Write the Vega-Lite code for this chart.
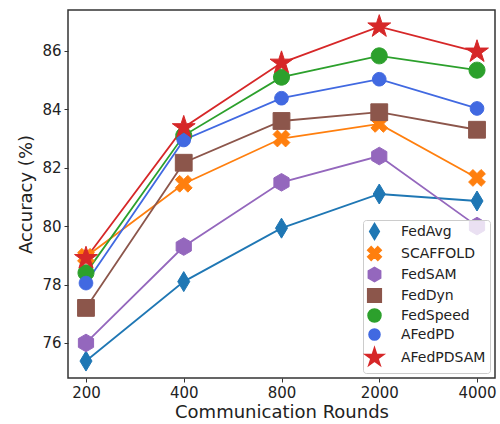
{
  "$schema": "https://vega.github.io/schema/vega-lite/v6.json",
  "width": 427,
  "height": 368,
  "autosize": {"type": "none"},
  "padding": {"left": 68, "top": 10, "right": 5, "bottom": 46},
  "background": "white",
  "config": {
    "font": "DejaVu Sans",
    "view": {"stroke": "#333", "strokeWidth": 1.5},
    "axis": {"grid": false, "domain": false, "tickColor": "#333", "tickSize": 4, "tickWidth": 1, "labelColor": "#222", "titleColor": "#222", "labelFontSize": 15, "titleFontSize": 18, "titleFontWeight": "normal", "labelFont": "DejaVu Sans", "titleFont": "DejaVu Sans"}
  },
  "resolve": {"legend": {"color": "independent", "shape": "independent", "stroke": "independent"}},
  "data": {"values": [
    {"method": "FedAvg", "marker": "FedAvg", "rounds": "200", "acc": 75.38},
    {"method": "FedAvg", "marker": "FedAvg", "rounds": "400", "acc": 78.1},
    {"method": "FedAvg", "marker": "FedAvg", "rounds": "800", "acc": 79.93},
    {"method": "FedAvg", "marker": "FedAvg", "rounds": "2000", "acc": 81.1},
    {"method": "FedAvg", "marker": "FedAvg", "rounds": "4000", "acc": 80.86},
    {"method": "SCAFFOLD", "marker": "SCAFFOLD", "rounds": "200", "acc": 78.95},
    {"method": "SCAFFOLD", "marker": "SCAFFOLD", "rounds": "400", "acc": 81.45},
    {"method": "SCAFFOLD", "marker": "SCAFFOLD", "rounds": "800", "acc": 83.0},
    {"method": "SCAFFOLD", "marker": "SCAFFOLD", "rounds": "2000", "acc": 83.5},
    {"method": "SCAFFOLD", "marker": "SCAFFOLD", "rounds": "4000", "acc": 81.65},
    {"method": "FedSAM", "marker": "FedSAM", "rounds": "200", "acc": 76.0},
    {"method": "FedSAM", "marker": "FedSAM", "rounds": "400", "acc": 79.3},
    {"method": "FedSAM", "marker": "FedSAM", "rounds": "800", "acc": 81.5},
    {"method": "FedSAM", "marker": "FedSAM", "rounds": "2000", "acc": 82.4},
    {"method": "FedSAM", "marker": "FedSAM", "rounds": "4000", "acc": 80.0},
    {"method": "FedDyn", "marker": "FedDyn", "rounds": "200", "acc": 77.2},
    {"method": "FedDyn", "marker": "FedDyn", "rounds": "400", "acc": 82.17},
    {"method": "FedDyn", "marker": "FedDyn", "rounds": "800", "acc": 83.6},
    {"method": "FedDyn", "marker": "FedDyn", "rounds": "2000", "acc": 83.9},
    {"method": "FedDyn", "marker": "FedDyn", "rounds": "4000", "acc": 83.3},
    {"method": "FedSpeed", "marker": "FedSpeed", "rounds": "200", "acc": 78.4},
    {"method": "FedSpeed", "marker": "FedSpeed", "rounds": "400", "acc": 83.1},
    {"method": "FedSpeed", "marker": "FedSpeed", "rounds": "800", "acc": 85.1},
    {"method": "FedSpeed", "marker": "FedSpeed", "rounds": "2000", "acc": 85.83},
    {"method": "FedSpeed", "marker": "FedSpeed", "rounds": "4000", "acc": 85.34},
    {"method": "AFedPD", "marker": "AFedPD", "rounds": "200", "acc": 78.05},
    {"method": "AFedPD", "marker": "AFedPD", "rounds": "400", "acc": 82.95},
    {"method": "AFedPD", "marker": "AFedPD", "rounds": "800", "acc": 84.38},
    {"method": "AFedPD", "marker": "AFedPD", "rounds": "2000", "acc": 85.03},
    {"method": "AFedPD", "marker": "AFedPD", "rounds": "4000", "acc": 84.03},
    {"method": "AFedPDSAM", "marker": "AFedPDSAM", "rounds": "200", "acc": 78.9},
    {"method": "AFedPDSAM", "marker": "AFedPDSAM", "rounds": "400", "acc": 83.38},
    {"method": "AFedPDSAM", "marker": "AFedPDSAM", "rounds": "800", "acc": 85.59},
    {"method": "AFedPDSAM", "marker": "AFedPDSAM", "rounds": "2000", "acc": 86.83},
    {"method": "AFedPDSAM", "marker": "AFedPDSAM", "rounds": "4000", "acc": 85.97}
  ]},
  "encoding": {
    "x": {"field": "rounds", "type": "ordinal", "sort": ["200", "400", "800", "2000", "4000"],
      "scale": {"type": "point", "padding": 0.184},
      "axis": {"title": "Communication Rounds", "labelAngle": 0, "labelPadding": 3, "titlePadding": 3}},
    "y": {"field": "acc", "type": "quantitative",
      "scale": {"domain": [74.8, 87.4], "nice": false, "zero": false},
      "axis": {"title": "Accuracy (%)", "values": [76, 78, 80, 82, 84, 86], "labelPadding": 3, "titlePadding": 6}}
  },
  "layer": [
    {"mark": {"type": "line", "strokeWidth": 1.8},
      "encoding": {
        "color": {"field": "method", "type": "nominal", "legend": null,
          "scale": {"domain": ["FedAvg", "SCAFFOLD", "FedSAM", "FedDyn", "FedSpeed", "AFedPD", "AFedPDSAM"],
            "range": ["#1f77b4", "#ff7f0e", "#9467bd", "#8c564b", "#2ca02c", "#4169e1", "#d62728"]}}
      }},
    {"mark": {"type": "point", "filled": true, "opacity": 1, "size": 256, "strokeWidth": 1},
      "encoding": {
        "color": {"field": "method", "type": "nominal",
          "scale": {"domain": ["FedAvg", "SCAFFOLD", "FedSAM", "FedDyn", "FedSpeed", "AFedPD", "AFedPDSAM"],
            "range": ["#1f77b4", "#ff7f0e", "#9467bd", "#8c564b", "#2ca02c", "#4169e1", "#d62728"]},
          "legend": {
            "title": null, "orient": "bottom-right", "offset": 5,
            "fillColor": "rgba(255,255,255,0.8)", "strokeColor": "#ccc", "cornerRadius": 3, "padding": 4,
            "symbolSize": 169, "symbolStrokeWidth": 1.5, "symbolOffset": 0, "labelOffset": 19,
            "labelFontSize": 14, "labelColor": "#222", "rowPadding": 0,
            "encode": {"symbols": {
              "shape": {"value": {"expr": "scale('shape', datum.value) + ' M0,-1.45 M0,1.45 M-2.54,-0.05 L2.54,-0.05 L2.54,0.05 L-2.54,0.05 Z'"}},
              "stroke": {"value": {"expr": "scale('color', datum.value)"}},
              "strokeWidth": {"value": 1.5}
            }}
          }},
        "stroke": {"field": "method", "type": "nominal", "legend": null,
          "scale": {"domain": ["FedAvg", "SCAFFOLD", "FedSAM", "FedDyn", "FedSpeed", "AFedPD", "AFedPDSAM"],
            "range": ["#1f77b4", "#ff7f0e", "#9467bd", "#8c564b", "#2ca02c", "#4169e1", "#d62728"]}},
        "shape": {"field": "marker", "type": "nominal", "legend": null,
          "scale": {"domain": ["FedAvg", "SCAFFOLD", "FedSAM", "FedDyn", "FedSpeed", "AFedPD", "AFedPDSAM"],
            "range": [
              "M0,-1.25L0.75,0L0,1.25L-0.75,0Z",
              "M0.51,-1.05L1.05,-0.51L0.54,0L1.05,0.51L0.51,1.05L0,0.54L-0.51,1.05L-1.05,0.51L-0.54,0L-1.05,-0.51L-0.51,-1.05L0,-0.54Z",
              "M0,-1.1L0.95,-0.55L0.95,0.55L0,1.1L-0.95,0.55L-0.95,-0.55Z",
              "M-1.05,-1.05L1.05,-1.05L1.05,1.05L-1.05,1.05Z",
              "M1,0A1,1,0,1,1,-1,0A1,1,0,1,1,1,0Z",
              "M0.85,0A0.85,0.85,0,1,1,-0.85,0A0.85,0.85,0,1,1,0.85,0Z",
              "M0,-1.5L0.337,-0.464L1.427,-0.464L0.545,0.177L0.882,1.214L0,0.573L-0.882,1.214L-0.545,0.177L-1.427,-0.464L-0.337,-0.464Z"
            ]}}
      }}
  ]
}
